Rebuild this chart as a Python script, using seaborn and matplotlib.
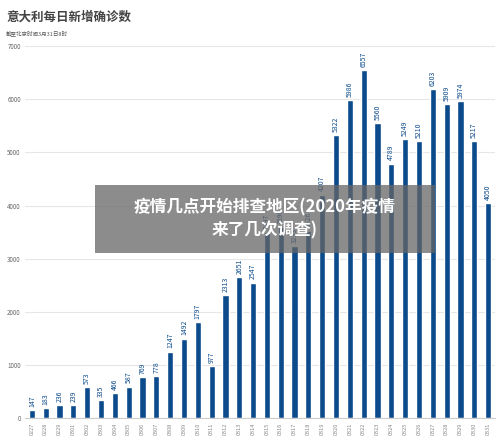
import matplotlib
matplotlib.use("Agg")
import matplotlib.pyplot as plt
import seaborn as sb
from matplotlib.patches import Rectangle

dates = ['0227', '0228', '0229', '0301', '0302', '0303', '0304', '0305', '0306', '0307',
         '0308', '0309', '0310', '0311', '0312', '0313', '0314', '0315', '0316', '0317',
         '0318', '0319', '0320', '0321', '0322', '0323', '0324', '0325', '0326', '0327',
         '0328', '0329', '0330', '0331']
cases = [147, 183, 236, 239, 573, 335, 466, 587, 769, 778,
         1247, 1492, 1797, 977, 2313, 2651, 2547, 3497, 3590, 3233,
         3526, 4207, 5322, 5986, 6557, 5560, 4789, 5249, 5210, 6203,
         5909, 5974, 5217, 4050]

sb.set_style("white")
plt.rcParams['font.family'] = ['Noto Sans CJK SC', 'DejaVu Sans']

fig = plt.figure(figsize=(5, 4.42), dpi=100)
ax = fig.add_axes([0.05, 0.055, 0.94, 0.84])
sb.barplot(x=dates, y=cases, color='#0b4a8b', width=0.45, saturation=1, ax=ax)

ax.set_ylim(0, 7000)
ax.set_yticks(range(0, 7001, 1000))
ax.yaxis.grid(True, color='#e6e6e6', lw=0.8)
ax.set_axisbelow(True)
for s in ax.spines.values():
    s.set_visible(False)
ax.spines['bottom'].set_visible(True)
ax.spines['bottom'].set_color('#cccccc')
ax.tick_params(axis='y', labelsize=4.5, colors='#666666', length=0, pad=3)
ax.tick_params(axis='x', labelsize=4, colors='#888888', length=0, rotation=90)
ax.set_xlabel('')
ax.set_ylabel('')

for i, v in enumerate(cases):
    ax.text(i, v + 60, str(v), rotation=90, ha='center', va='bottom',
            fontsize=5, color='#0b4a8b')

fig.text(0.012, 0.975, '意大利每日新增确诊数', fontsize=9, fontweight='bold',
         color='#444444', va='top')
fig.text(0.012, 0.93, '截至北京时间3月31日8时', fontsize=4, color='#555555', va='top')

fig.patches.append(Rectangle((0.19, 0.428), 0.68, 0.153, transform=fig.transFigure,
                             facecolor='#666666', alpha=0.75, edgecolor='none', zorder=5))
fig.text(0.53, 0.505, '疫情几点开始排查地区(2020年疫情\n来了几次调查)', fontsize=12,
         fontweight='bold', color='white', ha='center', va='center',
         linespacing=1.3, zorder=6)

fig.savefig('out.png', dpi=100)
